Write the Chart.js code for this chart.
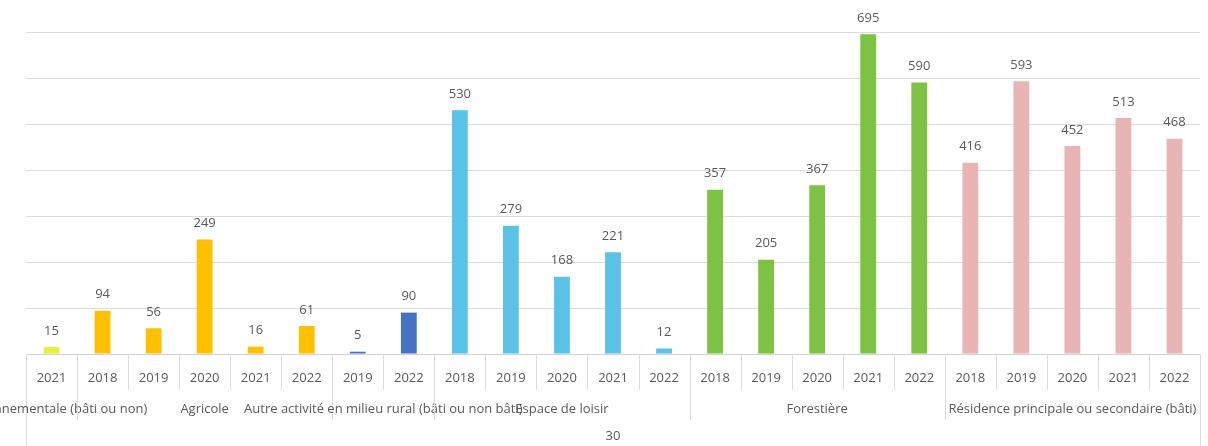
<!DOCTYPE html>
<html>
<head>
<meta charset="utf-8">
<script src="https://cdn.jsdelivr.net/npm/chart.js@4/dist/chart.umd.min.js"></script>
<style>
html,body{margin:0;padding:0;background:#fff;}
#wrap{width:1208px;height:446px;position:relative;}
</style>
</head>
<body>
<div id="wrap"><canvas id="c" width="1208" height="446"></canvas></div>
<script>
// ---- data ----
const years = ["2021","2018","2019","2020","2021","2022","2019","2022","2018","2019","2020","2021","2022","2018","2019","2020","2021","2022","2018","2019","2020","2021","2022"];
const values = [15,94,56,249,16,61,5,90,530,279,168,221,12,357,205,367,695,590,416,593,452,513,468];
const groupNames = ["Environnementale (bâti ou non)","Agricole","Autre activité en milieu rural (bâti ou non bâti)","Espace de loisir","Forestière","Résidence principale ou secondaire (bâti)"];
const groupSizes = [1,5,2,5,5,5];
const groupColors = ["#E6EF3A","#FFC000","#4472C4","#5BC3E8","#7DC242","#E8B4B4"];
const topLabel = "30";
const yTicks = [0,100,200,300,400,500,600,700];

// per-bar colours derived from groups
const barColors = [];
groupSizes.forEach((n,g)=>{ for(let i=0;i<n;i++) barColors.push(groupColors[g]); });

const FONT = "'Open Sans','Noto Sans','DejaVu Sans',sans-serif";
const TXT = "#5a5a5a";

const decor = {
  id:'decor',
  afterDatasetsDraw(chart){
    const ctx = chart.ctx;
    const x = chart.scales.x, y = chart.scales.y;
    const area = chart.chartArea;
    const meta = chart.getDatasetMeta(0);
    ctx.save();
    // value labels
    ctx.font = "13px " + FONT;
    ctx.fillStyle = TXT;
    ctx.textAlign = 'center';
    ctx.textBaseline = 'middle';
    meta.data.forEach((el,i)=>{
      ctx.fillText(String(values[i]), el.x, el.y - 16);
    });
    // axis line
    const base = y.getPixelForValue(0);
    ctx.strokeStyle = "#d0d0d0";
    ctx.lineWidth = 1;
    ctx.beginPath(); ctx.moveTo(area.left, base+0.5); ctx.lineTo(area.right, base+0.5); ctx.stroke();
    const half = (x.getPixelForValue(1) - x.getPixelForValue(0))/2;
    // category separators
    ctx.strokeStyle = "#dcdcdc";
    for(let i=0;i<=years.length;i++){
      const px = Math.round(x.getPixelForValue(i) - half) + 0.5;
      ctx.beginPath(); ctx.moveTo(px, base); ctx.lineTo(px, base+36); ctx.stroke();
    }
    // year labels
    ctx.font = "13px " + FONT;
    years.forEach((yr,i)=>{ ctx.fillText(yr, x.getPixelForValue(i), base+24); });
    // group separators and labels
    let start = 0;
    groupSizes.forEach((n,g)=>{
      const left = x.getPixelForValue(start) - half;
      const right = x.getPixelForValue(start+n-1) + half;
      const outer = (start===0);
      const px = Math.round(left)+0.5;
      ctx.beginPath(); ctx.moveTo(px, base); ctx.lineTo(px, outer ? 446 : base+66); ctx.stroke();
      ctx.fillText(groupNames[g], (left+right)/2, base+55);
      start += n;
    });
    const rpx = Math.round(x.getPixelForValue(years.length-1) + half)+0.5;
    ctx.beginPath(); ctx.moveTo(rpx, base); ctx.lineTo(rpx, 446); ctx.stroke();
    ctx.fillText(topLabel, (area.left+area.right)/2, base+82);
    ctx.restore();
  }
};

new Chart(document.getElementById('c'), {
  type:'bar',
  data:{
    labels: years.map((y,i)=>i),
    datasets:[{ data: values, backgroundColor: barColors, borderWidth:0, barPercentage:0.31, categoryPercentage:1 }]
  },
  options:{
    responsive:false,
    animation:false,
    layout:{ padding:{ left:26, right:8, top:32, bottom:92 } },
    plugins:{ legend:{display:false}, tooltip:{enabled:false} },
    scales:{
      x:{ display:false, offset:true },
      y:{ min:0, max:700, afterBuildTicks(s){ s.ticks = yTicks.map(v=>({value:v})); },
          ticks:{display:false}, border:{display:false},
          grid:{ color:"#dcdcdc", drawTicks:false, tickLength:0 } }
    }
  },
  plugins:[decor]
});
</script>
</body>
</html>
